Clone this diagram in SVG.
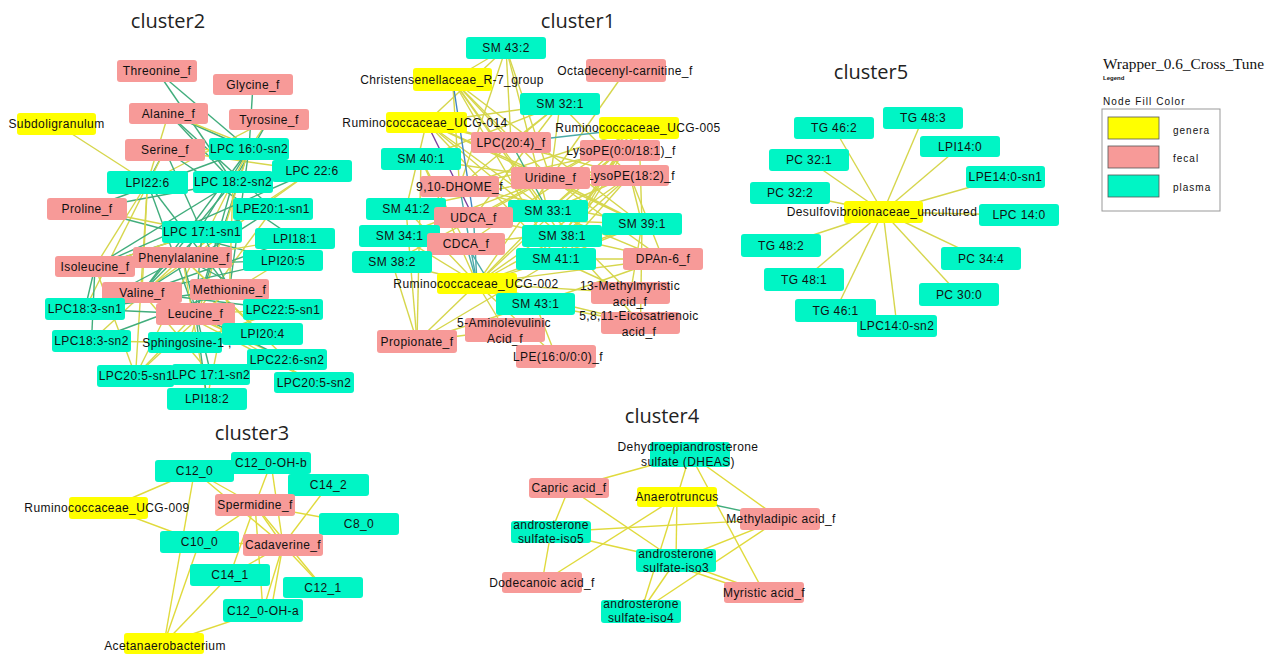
<svg xmlns="http://www.w3.org/2000/svg" width="1273" height="654" viewBox="0 0 1273 654">
<style>
.bg{fill:#ffffff}
line{stroke-width:1.4;fill:none}
.y{stroke:#d6d64c}
.g{stroke:#41ad7c}
.t{stroke:#4aa9a6}
.p{stroke:#7b3f9e}
.b{stroke:#3f86c4}
.k{stroke:#e0da3c}
.gen{fill:#ffff00}
.fec{fill:#f79a98}
.pla{fill:#00f5c5}
.lbl{font-family:"Liberation Sans",Arial,sans-serif;font-size:12px;letter-spacing:0.4px;fill:#111;text-anchor:middle}
.ttl{font-family:"Open Sans","Liberation Sans",sans-serif;font-size:20px;fill:#222;text-anchor:middle}
.lg{font-family:"Liberation Sans",Arial,sans-serif;font-size:10px;letter-spacing:1px;fill:#111}
</style>
<rect class="bg" x="0" y="0" width="1273" height="654"/>

<g id="titles">
<text class="ttl" x="168" y="28">cluster2</text>
<text class="ttl" x="578" y="28">cluster1</text>
<text class="ttl" x="871" y="79">cluster5</text>
<text class="ttl" x="252" y="440">cluster3</text>
<text class="ttl" x="662" y="423">cluster4</text>
</g>

<g id="connectors">
<!-- cluster2 -->
<line class="g" x1="157" y1="71" x2="249" y2="149"/>
<line class="g" x1="157" y1="71" x2="233" y2="182"/>
<line class="g" x1="253" y1="84.5" x2="249" y2="149"/>
<line class="g" x1="168.5" y1="113.5" x2="249" y2="149"/>
<line class="g" x1="168.5" y1="113.5" x2="233" y2="182"/>
<line class="y" x1="168.5" y1="113.5" x2="147.5" y2="182.5"/>
<line class="y" x1="168.5" y1="113.5" x2="312" y2="171"/>
<line class="g" x1="168.5" y1="113.5" x2="273" y2="209"/>
<line class="y" x1="269" y1="119.5" x2="249" y2="149"/>
<line class="y" x1="269" y1="119.5" x2="147.5" y2="182.5"/>
<line class="g" x1="269" y1="119.5" x2="233" y2="182"/>
<line class="y" x1="56.5" y1="124" x2="147.5" y2="182.5"/>
<line class="y" x1="165" y1="150" x2="249" y2="149"/>
<line class="g" x1="165" y1="150" x2="147.5" y2="182.5"/>
<line class="y" x1="165" y1="150" x2="312" y2="171"/>
<line class="g" x1="165" y1="150" x2="202" y2="232"/>
<line class="g" x1="165" y1="150" x2="295" y2="238.5"/>
<line class="y" x1="165" y1="150" x2="85" y2="309"/>
<line class="g" x1="87" y1="209" x2="249" y2="149"/>
<line class="g" x1="87" y1="209" x2="233" y2="182"/>
<line class="y" x1="87" y1="209" x2="202" y2="232"/>
<line class="g" x1="87" y1="209" x2="283" y2="260.5"/>
<line class="y" x1="147.5" y1="182.5" x2="95" y2="266.5"/>
<line class="y" x1="147.5" y1="182.5" x2="142" y2="292.5"/>
<line class="g" x1="147.5" y1="182.5" x2="195.5" y2="314"/>
<line class="g" x1="147.5" y1="182.5" x2="229.5" y2="289.5"/>
<line class="y" x1="147.5" y1="182.5" x2="135.5" y2="376"/>
<line class="g" x1="249" y1="149" x2="182.5" y2="257.5"/>
<line class="g" x1="249" y1="149" x2="229.5" y2="289.5"/>
<line class="g" x1="249" y1="149" x2="195.5" y2="314"/>
<line class="g" x1="249" y1="149" x2="142" y2="292.5"/>
<line class="y" x1="249" y1="149" x2="189" y2="342.5"/>
<line class="y" x1="249" y1="149" x2="135.5" y2="376"/>
<line class="g" x1="233" y1="182" x2="95" y2="266.5"/>
<line class="g" x1="233" y1="182" x2="142" y2="292.5"/>
<line class="g" x1="233" y1="182" x2="195.5" y2="314"/>
<line class="y" x1="233" y1="182" x2="229.5" y2="289.5"/>
<line class="y" x1="312" y1="171" x2="182.5" y2="257.5"/>
<line class="y" x1="312" y1="171" x2="142" y2="292.5"/>
<line class="g" x1="312" y1="171" x2="95" y2="266.5"/>
<line class="g" x1="273" y1="209" x2="95" y2="266.5"/>
<line class="g" x1="273" y1="209" x2="142" y2="292.5"/>
<line class="y" x1="273" y1="209" x2="195.5" y2="314"/>
<line class="g" x1="202" y1="232" x2="142" y2="292.5"/>
<line class="g" x1="202" y1="232" x2="195.5" y2="314"/>
<line class="g" x1="202" y1="232" x2="229.5" y2="289.5"/>
<line class="y" x1="202" y1="232" x2="95" y2="266.5"/>
<line class="y" x1="295" y1="238.5" x2="182.5" y2="257.5"/>
<line class="g" x1="295" y1="238.5" x2="142" y2="292.5"/>
<line class="g" x1="283" y1="260.5" x2="142" y2="292.5"/>
<line class="y" x1="283" y1="260.5" x2="195.5" y2="314"/>
<line class="g" x1="283" y1="260.5" x2="95" y2="266.5"/>
<line class="g" x1="182.5" y1="257.5" x2="85" y2="309"/>
<line class="y" x1="182.5" y1="257.5" x2="91.5" y2="341"/>
<line class="g" x1="182.5" y1="257.5" x2="283" y2="309.5"/>
<line class="y" x1="182.5" y1="257.5" x2="262.5" y2="334"/>
<line class="g" x1="182.5" y1="257.5" x2="211" y2="374.5"/>
<line class="y" x1="182.5" y1="257.5" x2="287" y2="359.5"/>
<line class="y" x1="182.5" y1="257.5" x2="207" y2="399"/>
<line class="g" x1="95" y1="266.5" x2="85" y2="309"/>
<line class="g" x1="95" y1="266.5" x2="91.5" y2="341"/>
<line class="y" x1="95" y1="266.5" x2="135.5" y2="376"/>
<line class="g" x1="142" y1="292.5" x2="283" y2="309.5"/>
<line class="g" x1="142" y1="292.5" x2="262.5" y2="334"/>
<line class="y" x1="142" y1="292.5" x2="287" y2="359.5"/>
<line class="y" x1="142" y1="292.5" x2="314" y2="382.5"/>
<line class="y" x1="142" y1="292.5" x2="211" y2="374.5"/>
<line class="g" x1="229.5" y1="289.5" x2="85" y2="309"/>
<line class="g" x1="229.5" y1="289.5" x2="91.5" y2="341"/>
<line class="y" x1="229.5" y1="289.5" x2="135.5" y2="376"/>
<line class="y" x1="229.5" y1="289.5" x2="207" y2="399"/>
<line class="g" x1="195.5" y1="314" x2="85" y2="309"/>
<line class="y" x1="195.5" y1="314" x2="283" y2="309.5"/>
<line class="g" x1="195.5" y1="314" x2="262.5" y2="334"/>
<line class="g" x1="195.5" y1="314" x2="287" y2="359.5"/>
<line class="y" x1="195.5" y1="314" x2="314" y2="382.5"/>
<line class="y" x1="195.5" y1="314" x2="135.5" y2="376"/>
<line class="g" x1="195.5" y1="314" x2="207" y2="399"/>
<line class="y" x1="189" y1="342.5" x2="283" y2="309.5"/>
<line class="y" x1="189" y1="342.5" x2="91.5" y2="341"/>
<!-- cluster1 -->
<line class="y" x1="506" y1="48" x2="452.5" y2="79.5"/>
<line class="y" x1="506" y1="48" x2="426.5" y2="122.5"/>
<line class="y" x1="506" y1="48" x2="511" y2="142.5"/>
<line class="y" x1="506" y1="48" x2="459.5" y2="186.5"/>
<line class="y" x1="506" y1="48" x2="550.5" y2="178"/>
<line class="y" x1="506" y1="48" x2="548" y2="211"/>
<line class="y" x1="452.5" y1="79.5" x2="511" y2="142.5"/>
<line class="y" x1="452.5" y1="79.5" x2="550.5" y2="178"/>
<line class="y" x1="452.5" y1="79.5" x2="548" y2="211"/>
<line class="y" x1="452.5" y1="79.5" x2="562" y2="236"/>
<line class="y" x1="452.5" y1="79.5" x2="642" y2="224"/>
<line class="y" x1="452.5" y1="79.5" x2="556" y2="259"/>
<line class="y" x1="452.5" y1="79.5" x2="459.5" y2="186.5"/>
<line class="y" x1="626" y1="70.5" x2="550.5" y2="178"/>
<line class="y" x1="560" y1="104" x2="426.5" y2="122.5"/>
<line class="y" x1="560" y1="104" x2="511" y2="142.5"/>
<line class="y" x1="560" y1="104" x2="459.5" y2="186.5"/>
<line class="y" x1="560" y1="104" x2="550.5" y2="178"/>
<line class="y" x1="560" y1="104" x2="421" y2="159"/>
<line class="y" x1="560" y1="104" x2="473.5" y2="217.5"/>
<line class="y" x1="560" y1="104" x2="630" y2="175.5"/>
<line class="y" x1="426.5" y1="122.5" x2="511" y2="142.5"/>
<line class="y" x1="426.5" y1="122.5" x2="550.5" y2="178"/>
<line class="y" x1="426.5" y1="122.5" x2="548" y2="211"/>
<line class="y" x1="426.5" y1="122.5" x2="562" y2="236"/>
<line class="y" x1="426.5" y1="122.5" x2="642" y2="224"/>
<line class="y" x1="426.5" y1="122.5" x2="630" y2="175.5"/>
<line class="y" x1="426.5" y1="122.5" x2="406" y2="209"/>
<line class="y" x1="426.5" y1="122.5" x2="556" y2="259"/>
<line class="y" x1="639" y1="128" x2="550.5" y2="178"/>
<line class="y" x1="639" y1="128" x2="548" y2="211"/>
<line class="y" x1="639" y1="128" x2="562" y2="236"/>
<line class="y" x1="639" y1="128" x2="642" y2="224"/>
<line class="y" x1="639" y1="128" x2="459.5" y2="186.5"/>
<line class="y" x1="639" y1="128" x2="473.5" y2="217.5"/>
<line class="y" x1="639" y1="128" x2="556" y2="259"/>
<line class="y" x1="639" y1="128" x2="466" y2="244"/>
<line class="y" x1="620" y1="150.5" x2="548" y2="211"/>
<line class="y" x1="620" y1="150.5" x2="562" y2="236"/>
<line class="y" x1="620" y1="150.5" x2="556" y2="259"/>
<line class="y" x1="620" y1="150.5" x2="477" y2="283.5"/>
<line class="y" x1="620" y1="150.5" x2="459.5" y2="186.5"/>
<line class="y" x1="630" y1="175.5" x2="642" y2="224"/>
<line class="y" x1="630" y1="175.5" x2="548" y2="211"/>
<line class="y" x1="630" y1="175.5" x2="562" y2="236"/>
<line class="y" x1="630" y1="175.5" x2="477" y2="283.5"/>
<line class="y" x1="630" y1="175.5" x2="556" y2="259"/>
<line class="y" x1="630" y1="175.5" x2="663" y2="259"/>
<line class="y" x1="421" y1="159" x2="550.5" y2="178"/>
<line class="y" x1="421" y1="159" x2="477" y2="283.5"/>
<line class="y" x1="421" y1="159" x2="466" y2="244"/>
<line class="y" x1="421" y1="159" x2="417" y2="341.5"/>
<line class="y" x1="459.5" y1="186.5" x2="642" y2="224"/>
<line class="y" x1="459.5" y1="186.5" x2="548" y2="211"/>
<line class="y" x1="550.5" y1="178" x2="406" y2="209"/>
<line class="y" x1="550.5" y1="178" x2="399.5" y2="236"/>
<line class="y" x1="550.5" y1="178" x2="477" y2="283.5"/>
<line class="y" x1="550.5" y1="178" x2="642" y2="224"/>
<line class="y" x1="550.5" y1="178" x2="663" y2="259"/>
<line class="y" x1="550.5" y1="178" x2="392" y2="262"/>
<line class="y" x1="406" y1="209" x2="477" y2="283.5"/>
<line class="y" x1="406" y1="209" x2="473.5" y2="217.5"/>
<line class="y" x1="406" y1="209" x2="417" y2="341.5"/>
<line class="y" x1="473.5" y1="217.5" x2="642" y2="224"/>
<line class="y" x1="473.5" y1="217.5" x2="562" y2="236"/>
<line class="y" x1="548" y1="211" x2="477" y2="283.5"/>
<line class="y" x1="548" y1="211" x2="663" y2="259"/>
<line class="y" x1="548" y1="211" x2="630.5" y2="293"/>
<line class="y" x1="642" y1="224" x2="477" y2="283.5"/>
<line class="y" x1="642" y1="224" x2="556" y2="259"/>
<line class="y" x1="642" y1="224" x2="630.5" y2="293"/>
<line class="y" x1="642" y1="224" x2="640.5" y2="323"/>
<line class="y" x1="399.5" y1="236" x2="477" y2="283.5"/>
<line class="y" x1="399.5" y1="236" x2="466" y2="244"/>
<line class="y" x1="466" y1="244" x2="642" y2="224"/>
<line class="y" x1="562" y1="236" x2="477" y2="283.5"/>
<line class="y" x1="562" y1="236" x2="663" y2="259"/>
<line class="y" x1="562" y1="236" x2="640.5" y2="323"/>
<line class="y" x1="392" y1="262" x2="477" y2="283.5"/>
<line class="y" x1="392" y1="262" x2="417" y2="341.5"/>
<line class="y" x1="663" y1="259" x2="477" y2="283.5"/>
<line class="y" x1="663" y1="259" x2="556" y2="259"/>
<line class="y" x1="663" y1="259" x2="535.5" y2="304"/>
<line class="y" x1="556" y1="259" x2="477" y2="283.5"/>
<line class="y" x1="556" y1="259" x2="417" y2="341.5"/>
<line class="y" x1="556" y1="259" x2="630.5" y2="293"/>
<line class="y" x1="477" y1="283.5" x2="535.5" y2="304"/>
<line class="y" x1="477" y1="283.5" x2="630.5" y2="293"/>
<line class="y" x1="477" y1="283.5" x2="640.5" y2="323"/>
<line class="y" x1="477" y1="283.5" x2="505" y2="330"/>
<line class="y" x1="477" y1="283.5" x2="417" y2="341.5"/>
<line class="y" x1="477" y1="283.5" x2="556" y2="356.5"/>
<line class="y" x1="535.5" y1="304" x2="417" y2="341.5"/>
<line class="y" x1="535.5" y1="304" x2="556" y2="356.5"/>
<line class="y" x1="535.5" y1="304" x2="640.5" y2="323"/>
<line class="y" x1="505" y1="330" x2="417" y2="341.5"/>
<line class="t" x1="639" y1="128" x2="511" y2="142.5"/>
<line class="t" x1="459.5" y1="186.5" x2="477" y2="283.5"/>
<line class="t" x1="473.5" y1="217.5" x2="477" y2="283.5"/>
<line class="t" x1="466" y1="244" x2="477" y2="283.5"/>
<line class="t" x1="466" y1="244" x2="490" y2="283.5"/>
<line class="g" x1="511" y1="142.5" x2="548" y2="211"/>
<line class="b" x1="452.5" y1="79.5" x2="473.5" y2="217.5"/>
<line class="p" x1="426.5" y1="122.5" x2="473.5" y2="217.5"/>
<!-- cluster5 -->
<line class="y" x1="883" y1="212" x2="923" y2="118"/>
<line class="y" x1="883" y1="212" x2="834" y2="128"/>
<line class="y" x1="883" y1="212" x2="960" y2="146.5"/>
<line class="y" x1="883" y1="212" x2="809" y2="160.5"/>
<line class="y" x1="883" y1="212" x2="1005.5" y2="177"/>
<line class="y" x1="883" y1="212" x2="790" y2="193"/>
<line class="y" x1="883" y1="212" x2="1019" y2="215"/>
<line class="y" x1="883" y1="212" x2="781" y2="245.5"/>
<line class="y" x1="883" y1="212" x2="981" y2="258.5"/>
<line class="y" x1="883" y1="212" x2="804" y2="279.5"/>
<line class="y" x1="883" y1="212" x2="959" y2="294.5"/>
<line class="y" x1="883" y1="212" x2="835.5" y2="310.5"/>
<line class="y" x1="883" y1="212" x2="897" y2="326"/>
<!-- cluster3 -->
<line class="k" x1="194.5" y1="471" x2="108.5" y2="508"/>
<line class="k" x1="108.5" y1="508" x2="199.5" y2="542"/>
<line class="k" x1="194.5" y1="471" x2="164" y2="643.5"/>
<line class="k" x1="199.5" y1="542" x2="164" y2="643.5"/>
<line class="k" x1="194.5" y1="471" x2="255" y2="505"/>
<line class="k" x1="194.5" y1="471" x2="283" y2="545"/>
<line class="k" x1="271" y1="463" x2="255" y2="505"/>
<line class="k" x1="271" y1="463" x2="283" y2="545"/>
<line class="k" x1="328.5" y1="485" x2="283" y2="545"/>
<line class="k" x1="255" y1="505" x2="359" y2="524"/>
<line class="k" x1="255" y1="505" x2="199.5" y2="542"/>
<line class="k" x1="255" y1="505" x2="230" y2="575"/>
<line class="k" x1="255" y1="505" x2="323" y2="587.5"/>
<line class="k" x1="255" y1="505" x2="263" y2="610.5"/>
<line class="k" x1="255" y1="505" x2="283" y2="545"/>
<line class="k" x1="283" y1="545" x2="323" y2="587.5"/>
<line class="k" x1="283" y1="545" x2="230" y2="575"/>
<line class="k" x1="283" y1="545" x2="263" y2="610.5"/>
<line class="k" x1="283" y1="545" x2="271" y2="610.5"/>
<line class="k" x1="199.5" y1="542" x2="283" y2="545"/>
<line class="k" x1="230" y1="575" x2="164" y2="643.5"/>
<line class="k" x1="263" y1="610.5" x2="164" y2="643.5"/>
<!-- cluster4 -->
<line class="k" x1="690" y1="454.5" x2="569" y2="488"/>
<line class="k" x1="690" y1="454.5" x2="677" y2="497"/>
<line class="k" x1="690" y1="454.5" x2="780" y2="519"/>
<line class="k" x1="690" y1="454.5" x2="764" y2="592.5"/>
<line class="k" x1="569" y1="488" x2="551" y2="532"/>
<line class="k" x1="569" y1="488" x2="676" y2="560.5"/>
<line class="k" x1="677" y1="497" x2="542" y2="582.5"/>
<line class="k" x1="677" y1="497" x2="676" y2="560.5"/>
<line class="k" x1="677" y1="497" x2="641" y2="611.5"/>
<line class="g" x1="677" y1="497" x2="780" y2="519"/>
<line class="k" x1="551" y1="532" x2="780" y2="519"/>
<line class="k" x1="551" y1="532" x2="676" y2="560.5"/>
<line class="k" x1="551" y1="532" x2="542" y2="582.5"/>
<line class="k" x1="676" y1="560.5" x2="780" y2="519"/>
<line class="k" x1="676" y1="560.5" x2="764" y2="592.5"/>
<line class="k" x1="676" y1="566" x2="764" y2="596"/>
<line class="k" x1="676" y1="560.5" x2="641" y2="611.5"/>
<line class="k" x1="641" y1="611.5" x2="780" y2="519"/>
</g>

<g id="cluster2">
<g id="n-threonine"><rect class="fec" x="117" y="60" width="80" height="22" rx="3"/><text class="lbl" x="157" y="75">Threonine_f</text></g>
<g id="n-glycine"><rect class="fec" x="213" y="74" width="80" height="21" rx="3"/><text class="lbl" x="253" y="89">Glycine_f</text></g>
<g id="n-alanine"><rect class="fec" x="129" y="103" width="79" height="21" rx="3"/><text class="lbl" x="168.5" y="118">Alanine_f</text></g>
<g id="n-tyrosine"><rect class="fec" x="229" y="109" width="80" height="21" rx="3"/><text class="lbl" x="269" y="124">Tyrosine_f</text></g>
<g id="n-subdoligranulum"><rect class="gen" x="17" y="113" width="79" height="22" rx="3"/><text class="lbl" x="56.5" y="128">Subdoligranulum</text></g>
<g id="n-serine"><rect class="fec" x="125" y="139" width="80" height="22" rx="3"/><text class="lbl" x="165" y="154">Serine_f</text></g>
<g id="n-lpc160sn2"><rect class="pla" x="209" y="138" width="80" height="22" rx="3"/><text class="lbl" x="249" y="153">LPC 16:0-sn2</text></g>
<g id="n-lpc226"><rect class="pla" x="272" y="160" width="80" height="22" rx="3"/><text class="lbl" x="312" y="175">LPC 22:6</text></g>
<g id="n-lpi226"><rect class="pla" x="107" y="171" width="81" height="23" rx="3"/><text class="lbl" x="147.5" y="186.5">LPI22:6</text></g>
<g id="n-lpc182sn2"><rect class="pla" x="193" y="171" width="80" height="22" rx="3"/><text class="lbl" x="233" y="186">LPC 18:2-sn2</text></g>
<g id="n-proline"><rect class="fec" x="47" y="198" width="80" height="22" rx="3"/><text class="lbl" x="87" y="213">Proline_f</text></g>
<g id="n-lpe201sn1"><rect class="pla" x="233" y="198" width="80" height="22" rx="3"/><text class="lbl" x="273" y="213">LPE20:1-sn1</text></g>
<g id="n-lpc171sn1"><rect class="pla" x="162" y="221" width="80" height="22" rx="3"/><text class="lbl" x="202" y="236">LPC 17:1-sn1</text></g>
<g id="n-lpi181"><rect class="pla" x="255" y="228" width="80" height="21" rx="3"/><text class="lbl" x="295" y="243">LPI18:1</text></g>
<g id="n-lpi205"><rect class="pla" x="243" y="250" width="80" height="21" rx="3"/><text class="lbl" x="283" y="265">LPI20:5</text></g>
<g id="n-phenylalanine"><rect class="fec" x="133" y="247" width="99" height="21" rx="3"/><text class="lbl" x="184" y="262">Phenylalanine_f</text></g>
<g id="n-isoleucine"><rect class="fec" x="55" y="256" width="80" height="21" rx="3"/><text class="lbl" x="95" y="271">Isoleucine_f</text></g>
<g id="n-methionine"><rect class="fec" x="190" y="279" width="79" height="21" rx="3"/><text class="lbl" x="229.5" y="294">Methionine_f</text></g>
<g id="n-valine"><rect class="fec" x="102" y="282" width="80" height="21" rx="3"/><text class="lbl" x="142" y="297">Valine_f</text></g>
<g id="n-lpc183sn1"><rect class="pla" x="45" y="298" width="80" height="22" rx="3"/><text class="lbl" x="85" y="313">LPC18:3-sn1</text></g>
<g id="n-lpc225sn1"><rect class="pla" x="243" y="299" width="80" height="21" rx="3"/><text class="lbl" x="283" y="314">LPC22:5-sn1</text></g>
<g id="n-leucine"><rect class="fec" x="156" y="303" width="79" height="22" rx="3"/><text class="lbl" x="195.5" y="318">Leucine_f</text></g>
<g id="n-lpi204"><rect class="pla" x="222" y="323" width="81" height="22" rx="3"/><text class="lbl" x="262.5" y="338">LPI20:4</text></g>
<g id="n-lpc183sn2"><rect class="pla" x="52" y="330" width="79" height="22" rx="3"/><text class="lbl" x="91.5" y="345">LPC18:3-sn2</text></g>
<g id="n-sphingosine"><rect class="pla" x="148" y="332" width="74" height="21" rx="3"/><text class="lbl" x="187" y="347">Sphingosine-1 ,</text></g>
<g id="n-lpc226sn2"><rect class="pla" x="247" y="349" width="80" height="21" rx="3"/><text class="lbl" x="287" y="364">LPC22:6-sn2</text></g>
<g id="n-lpc205sn1"><rect class="pla" x="97" y="365" width="77" height="22" rx="3"/><text class="lbl" x="136" y="380">LPC20:5-sn1</text></g>
<g id="n-lpc171sn2"><rect class="pla" x="172" y="364" width="78" height="21" rx="3"/><text class="lbl" x="211" y="379">LPC 17:1-sn2</text></g>
<g id="n-lpc205sn2"><rect class="pla" x="274" y="372" width="80" height="21" rx="3"/><text class="lbl" x="314" y="387">LPC20:5-sn2</text></g>
<g id="n-lpi182"><rect class="pla" x="167" y="388" width="80" height="22" rx="3"/><text class="lbl" x="207" y="403">LPI18:2</text></g>
</g>

<g id="cluster1">
<g id="n-sm432"><rect class="pla" x="466" y="37" width="80" height="22" rx="3"/><text class="lbl" x="506" y="52">SM 43:2</text></g>
<g id="n-christensenellaceae"><rect class="gen" x="413" y="68" width="79" height="23" rx="3"/><text class="lbl" x="452" y="84">Christensenellaceae_R-7_group</text></g>
<g id="n-octadecenyl"><rect class="fec" x="586" y="59" width="80" height="23" rx="3"/><text class="lbl" x="625" y="75">Octadecenyl-carnitine_f</text></g>
<g id="n-sm321"><rect class="pla" x="520" y="93" width="80" height="22" rx="3"/><text class="lbl" x="560" y="108">SM 32:1</text></g>
<g id="n-ucg014"><rect class="gen" x="386" y="112" width="81" height="21" rx="3"/><text class="lbl" x="425" y="127">Ruminococcaceae_UCG-014</text></g>
<g id="n-ucg005"><rect class="gen" x="599" y="117" width="80" height="22" rx="3"/><text class="lbl" x="638" y="132">Ruminococcaceae_UCG-005</text></g>
<g id="n-lpc204"><rect class="fec" x="471" y="132" width="80" height="21" rx="3"/><text class="lbl" x="511" y="147">LPC(20:4)_f</text></g>
<g id="n-lysope01"><rect class="fec" x="580" y="140" width="80" height="21" rx="3"/><text class="lbl" x="621" y="155">LysoPE(0:0/18:1)_f</text></g>
<g id="n-sm401"><rect class="pla" x="381" y="148" width="80" height="22" rx="3"/><text class="lbl" x="421" y="163">SM 40:1</text></g>
<g id="n-lysope182"><rect class="fec" x="591" y="165" width="78" height="21" rx="3"/><text class="lbl" x="631" y="180">LysoPE(18:2)_f</text></g>
<g id="n-uridine"><rect class="fec" x="511" y="167" width="79" height="22" rx="3"/><text class="lbl" x="550.5" y="182">Uridine_f</text></g>
<g id="n-dhome"><rect class="fec" x="420" y="176" width="79" height="21" rx="3"/><text class="lbl" x="459.5" y="191">9,10-DHOME_f</text></g>
<g id="n-sm412"><rect class="pla" x="366" y="198" width="80" height="22" rx="3"/><text class="lbl" x="406" y="213">SM 41:2</text></g>
<g id="n-sm331"><rect class="pla" x="508" y="200" width="80" height="22" rx="3"/><text class="lbl" x="548" y="215">SM 33:1</text></g>
<g id="n-udca"><rect class="fec" x="434" y="207" width="79" height="21" rx="3"/><text class="lbl" x="473.5" y="222">UDCA_f</text></g>
<g id="n-sm391"><rect class="pla" x="602" y="213" width="80" height="22" rx="3"/><text class="lbl" x="642" y="228">SM 39:1</text></g>
<g id="n-sm341"><rect class="pla" x="359" y="225" width="81" height="22" rx="3"/><text class="lbl" x="399.5" y="240">SM 34:1</text></g>
<g id="n-sm381"><rect class="pla" x="522" y="225" width="80" height="22" rx="3"/><text class="lbl" x="562" y="240">SM 38:1</text></g>
<g id="n-cdca"><rect class="fec" x="427" y="233" width="78" height="22" rx="3"/><text class="lbl" x="466" y="248">CDCA_f</text></g>
<g id="n-sm382"><rect class="pla" x="352" y="251" width="80" height="22" rx="3"/><text class="lbl" x="392" y="266">SM 38:2</text></g>
<g id="n-dpa"><rect class="fec" x="623" y="248" width="80" height="22" rx="3"/><text class="lbl" x="663" y="263">DPAn-6_f</text></g>
<g id="n-sm411"><rect class="pla" x="516" y="248" width="80" height="22" rx="3"/><text class="lbl" x="556" y="263">SM 41:1</text></g>
<g id="n-ucg002"><rect class="gen" x="437" y="273" width="80" height="21" rx="3"/><text class="lbl" x="476" y="288">Ruminococcaceae_UCG-002</text></g>
<g id="n-methylmyristic"><rect class="fec" x="591" y="282" width="79" height="22" rx="3"/><text class="lbl" x="630" y="290">13-Methylmyristic</text><text class="lbl" x="630" y="306">acid_f</text></g>
<g id="n-sm431"><rect class="pla" x="496" y="293" width="79" height="22" rx="3"/><text class="lbl" x="535.5" y="308">SM 43:1</text></g>
<g id="n-eicosatrienoic"><rect class="fec" x="601" y="312" width="79" height="22" rx="3"/><text class="lbl" x="639" y="320">5,8,11-Eicosatrienoic</text><text class="lbl" x="639" y="336">acid_f</text></g>
<g id="n-aminolevulinic"><rect class="fec" x="465" y="318" width="80" height="24" rx="3"/><text class="lbl" x="504" y="327">5-Aminolevulinic</text><text class="lbl" x="505" y="343">Acid_f</text></g>
<g id="n-propionate"><rect class="fec" x="377" y="330" width="80" height="23" rx="3"/><text class="lbl" x="417" y="346">Propionate_f</text></g>
<g id="n-lpe160"><rect class="fec" x="516" y="345" width="80" height="23" rx="3"/><text class="lbl" x="558" y="361">LPE(16:0/0:0)_f</text></g>
</g>

<g id="cluster5">
<g id="n-tg483"><rect class="pla" x="883" y="107" width="80" height="22" rx="3"/><text class="lbl" x="923" y="122">TG 48:3</text></g>
<g id="n-tg462"><rect class="pla" x="794" y="117" width="80" height="22" rx="3"/><text class="lbl" x="834" y="132">TG 46:2</text></g>
<g id="n-lpi140"><rect class="pla" x="920" y="136" width="80" height="21" rx="3"/><text class="lbl" x="960" y="151">LPI14:0</text></g>
<g id="n-pc321"><rect class="pla" x="769" y="149" width="80" height="22" rx="3"/><text class="lbl" x="809" y="164">PC 32:1</text></g>
<g id="n-lpe140sn1"><rect class="pla" x="966" y="166" width="79" height="22" rx="3"/><text class="lbl" x="1005.5" y="181">LPE14:0-sn1</text></g>
<g id="n-pc322"><rect class="pla" x="750" y="182" width="80" height="22" rx="3"/><text class="lbl" x="790" y="197">PC 32:2</text></g>
<g id="n-lpc140"><rect class="pla" x="979" y="204" width="80" height="22" rx="3"/><text class="lbl" x="1019" y="219">LPC 14:0</text></g>
<g id="n-desulfo"><rect class="gen" x="844" y="201" width="79" height="22" rx="3"/><text class="lbl" x="882" y="216">Desulfovibroionaceae_uncultured</text></g>
<g id="n-tg482"><rect class="pla" x="741" y="234" width="80" height="23" rx="3"/><text class="lbl" x="781" y="250">TG 48:2</text></g>
<g id="n-pc344"><rect class="pla" x="941" y="247" width="80" height="23" rx="3"/><text class="lbl" x="981" y="263">PC 34:4</text></g>
<g id="n-tg481"><rect class="pla" x="764" y="268" width="80" height="23" rx="3"/><text class="lbl" x="804" y="284">TG 48:1</text></g>
<g id="n-pc300"><rect class="pla" x="919" y="283" width="80" height="23" rx="3"/><text class="lbl" x="959" y="299">PC 30:0</text></g>
<g id="n-tg461"><rect class="pla" x="795" y="299" width="81" height="23" rx="3"/><text class="lbl" x="835.5" y="315">TG 46:1</text></g>
<g id="n-lpc140sn2"><rect class="pla" x="857" y="315" width="80" height="22" rx="3"/><text class="lbl" x="897" y="330">LPC14:0-sn2</text></g>
</g>

<g id="cluster3">
<g id="n-c120ohb"><rect class="pla" x="231" y="452" width="80" height="22" rx="3"/><text class="lbl" x="271" y="467">C12_0-OH-b</text></g>
<g id="n-c120"><rect class="pla" x="155" y="460" width="79" height="22" rx="3"/><text class="lbl" x="194.5" y="475">C12_0</text></g>
<g id="n-c142"><rect class="pla" x="288" y="474" width="81" height="22" rx="3"/><text class="lbl" x="328.5" y="489">C14_2</text></g>
<g id="n-ucg009"><rect class="gen" x="69" y="497" width="79" height="22" rx="3"/><text class="lbl" x="107" y="512">Ruminococcaceae_UCG-009</text></g>
<g id="n-spermidine"><rect class="fec" x="215" y="494" width="80" height="22" rx="3"/><text class="lbl" x="255" y="509">Spermidine_f</text></g>
<g id="n-c80"><rect class="pla" x="319" y="513" width="80" height="22" rx="3"/><text class="lbl" x="359" y="528">C8_0</text></g>
<g id="n-c100"><rect class="pla" x="160" y="531" width="79" height="22" rx="3"/><text class="lbl" x="199.5" y="546">C10_0</text></g>
<g id="n-cadaverine"><rect class="fec" x="243" y="534" width="80" height="22" rx="3"/><text class="lbl" x="283" y="549">Cadaverine_f</text></g>
<g id="n-c141"><rect class="pla" x="190" y="564" width="80" height="22" rx="3"/><text class="lbl" x="230" y="579">C14_1</text></g>
<g id="n-c121"><rect class="pla" x="283" y="577" width="80" height="21" rx="3"/><text class="lbl" x="323" y="592">C12_1</text></g>
<g id="n-c120oha"><rect class="pla" x="223" y="599" width="80" height="23" rx="3"/><text class="lbl" x="263" y="615">C12_0-OH-a</text></g>
<g id="n-acetanaerobacterium"><rect class="gen" x="124" y="633" width="80" height="21" rx="3"/><text class="lbl" x="165" y="650">Acetanaerobacterium</text></g>
</g>

<g id="cluster4">
<g id="n-dheas"><rect class="pla" x="650" y="442" width="80" height="25" rx="3"/><text class="lbl" x="688" y="451">Dehydroepiandrosterone</text><text class="lbl" x="688" y="466">sulfate (DHEAS)</text></g>
<g id="n-capric"><rect class="fec" x="529" y="478" width="80" height="20" rx="3"/><text class="lbl" x="569" y="492">Capric acid_f</text></g>
<g id="n-anaerotruncus"><rect class="gen" x="637" y="487" width="80" height="20" rx="3"/><text class="lbl" x="677" y="501">Anaerotruncus</text></g>
<g id="n-methyladipic"><rect class="fec" x="740" y="508" width="80" height="22" rx="3"/><text class="lbl" x="781" y="523">Methyladipic acid_f</text></g>
<g id="n-iso5"><rect class="pla" x="511" y="521" width="80" height="22" rx="3"/><text class="lbl" x="551" y="529">androsterone</text><text class="lbl" x="551" y="543">sulfate-iso5</text></g>
<g id="n-iso3"><rect class="pla" x="636" y="549" width="80" height="23" rx="3"/><text class="lbl" x="676" y="558">androsterone</text><text class="lbl" x="676" y="572">sulfate-iso3</text></g>
<g id="n-dodecanoic"><rect class="fec" x="502" y="572" width="80" height="21" rx="3"/><text class="lbl" x="542" y="587">Dodecanoic acid_f</text></g>
<g id="n-myristic"><rect class="fec" x="724" y="582" width="80" height="21" rx="3"/><text class="lbl" x="764" y="597">Myristic acid_f</text></g>
<g id="n-iso4"><rect class="pla" x="601" y="600" width="80" height="23" rx="3"/><text class="lbl" x="641" y="608">androsterone</text><text class="lbl" x="641" y="622">sulfate-iso4</text></g>
</g>

<g id="legend">
<text x="1103" y="69" font-family="Liberation Serif,Times New Roman,serif" font-size="15" textLength="161" lengthAdjust="spacingAndGlyphs" fill="#111">Wrapper_0.6_Cross_Tune</text>
<text x="1103" y="80" font-family="Liberation Sans,Arial,sans-serif" font-size="6" font-weight="bold" fill="#111">Legend</text>
<text x="1103" y="105" font-family="Liberation Sans,Arial,sans-serif" font-size="10" letter-spacing="1.1" fill="#111">Node Fill Color</text>
<rect x="1102" y="109" width="118" height="102" fill="#fff" stroke="#999" stroke-width="1"/>
<rect class="gen" x="1108" y="117" width="51" height="22" stroke="#555" stroke-width="0.8"/>
<rect class="fec" x="1108" y="146" width="51" height="22" stroke="#555" stroke-width="0.8"/>
<rect class="pla" x="1108" y="175" width="51" height="22" stroke="#555" stroke-width="0.8"/>
<text class="lg" x="1173" y="134">genera</text>
<text class="lg" x="1173" y="162">fecal</text>
<text class="lg" x="1173" y="191">plasma</text>
</g>
</svg>
